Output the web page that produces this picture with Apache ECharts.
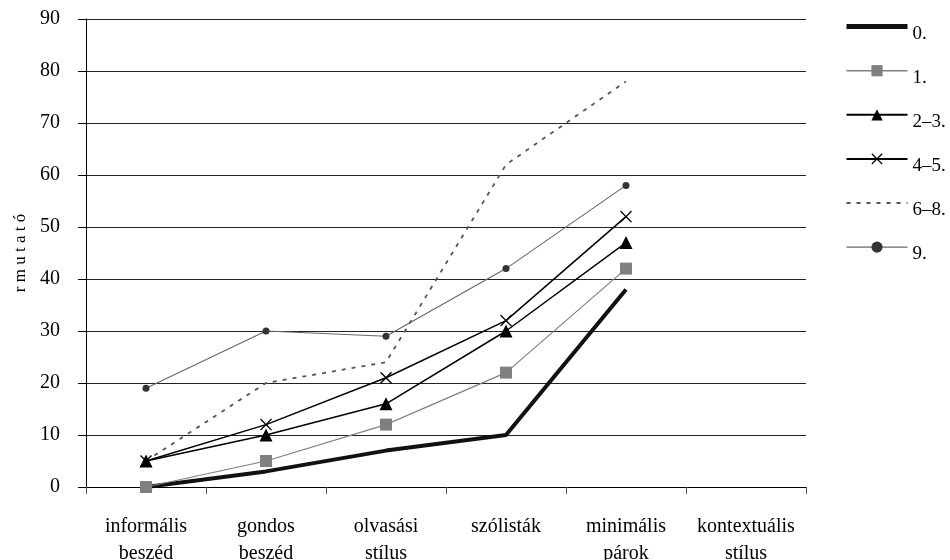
<!DOCTYPE html>
<html>
<head>
<meta charset="utf-8">
<script src="https://cdn.jsdelivr.net/npm/echarts@6/dist/echarts.min.js"></script>
<style>html,body{margin:0;padding:0;background:#fff}#c{width:950px;height:560px}</style>
</head>
<body>
<div id="c"></div>
<script>
const categories = ['informális\nbeszéd', 'gondos\nbeszéd', 'olvasási\nstílus', 'szólisták', 'minimális\npárok', 'kontextuális\nstílus'];
const seriesNames = ['0.', '1.', '2–3.', '4–5.', '6–8.', '9.'];
const s0 = [0, 3, 7, 10, 38, null];
const s1 = [0, 5, 12, 22, 42, null];
const s23 = [5, 10, 16, 30, 47, null];
const s45 = [5, 12, 21, 32, 52, null];
const s68 = [5, 20, 24, 62, 78, null];
const s9 = [19, 30, 29, 42, 58, null];
const yTicks = {min: 0, max: 90, interval: 10};

const FONT = '"Liberation Serif", "DejaVu Serif", serif';
const XPATH = 'path://M0,0.8 L0.8,0 L5,4.2 L9.2,0 L10,0.8 L5.8,5 L10,9.2 L9.2,10 L5,5.8 L0.8,10 L0,9.2 L4.2,5 Z';

const chart = echarts.init(document.getElementById('c'), null, {renderer: 'canvas'});
chart.setOption({
  animation: false,
  backgroundColor: '#fff',
  textStyle: {fontFamily: FONT},
  grid: {left: 86, right: 144, top: 19, bottom: 73, containLabel: false, outerBoundsMode: 'none'},
  legend: {
    orient: 'vertical', left: 844, top: 21, padding: 0,
    itemWidth: 61, itemHeight: 14, itemGap: 22,
    formatter: '{s| }{t|{name}}',
    textStyle: {
      fontFamily: FONT, fontSize: 19, color: '#000',
      rich: {
        s: {fontSize: 2, lineHeight: 33, width: 0},
        t: {fontFamily: FONT, fontSize: 19, color: '#000', lineHeight: 19, verticalAlign: 'bottom'}
      }
    },
    data: [
      {name: seriesNames[0], itemStyle: {opacity: 0}, lineStyle: {width: 5, color: '#111'}},
      {name: seriesNames[1], lineStyle: {width: 1.5, color: '#808080'}},
      {name: seriesNames[2], lineStyle: {width: 2, color: '#000'}},
      {name: seriesNames[3], lineStyle: {width: 2, color: '#000'}},
      {name: seriesNames[4], itemStyle: {opacity: 0}, lineStyle: {width: 2, color: '#555', type: [4, 6]}},
      {name: seriesNames[5], lineStyle: {width: 1.2, color: '#666'}}
    ]
  },
  xAxis: {
    type: 'category', data: categories, boundaryGap: true,
    axisLine: {lineStyle: {color: '#000', width: 1}},
    axisTick: {show: true, length: 7, lineStyle: {color: '#555'}},
    axisLabel: {fontFamily: FONT, fontSize: 20, color: '#000', margin: 26, lineHeight: 27, interval: 0}
  },
  yAxis: {
    type: 'value', min: yTicks.min, max: yTicks.max, interval: yTicks.interval,
    name: 'r m u t a t ó', nameLocation: 'middle', nameGap: 50, nameRotate: 90,
    nameTextStyle: {fontFamily: FONT, fontSize: 17, color: '#000'},
    axisLine: {show: true, lineStyle: {color: '#000', width: 1}},
    axisTick: {show: true, length: 8, lineStyle: {color: '#000'}},
    axisLabel: {fontFamily: FONT, fontSize: 20, color: '#000', margin: 26},
    splitLine: {lineStyle: {color: '#222', width: 1}}
  },
  series: [
    {name: seriesNames[0], type: 'line', data: s0, symbol: 'none', z: 2,
     lineStyle: {color: '#111', width: 4}, itemStyle: {color: '#111'}},
    {name: seriesNames[1], type: 'line', data: s1, symbol: 'rect', symbolSize: 12,
     lineStyle: {color: '#808080', width: 1.2}, itemStyle: {color: '#808080'}},
    {name: seriesNames[2], type: 'line', data: s23, symbol: 'triangle', symbolSize: 13,
     lineStyle: {color: '#000', width: 1.5}, itemStyle: {color: '#000'}},
    {name: seriesNames[3], type: 'line', data: s45, symbol: XPATH, symbolSize: 12,
     lineStyle: {color: '#000', width: 1.5}, itemStyle: {color: '#000'}},
    {name: seriesNames[4], type: 'line', data: s68, symbol: 'none',
     lineStyle: {color: '#555', width: 1.8, type: [4, 6]}, itemStyle: {color: '#555'}},
    {name: seriesNames[5], type: 'line', data: s9, symbol: 'circle', symbolSize: 7,
     lineStyle: {color: '#666', width: 1.1}, itemStyle: {color: '#333'}}
  ]
});
</script>
</body>
</html>
